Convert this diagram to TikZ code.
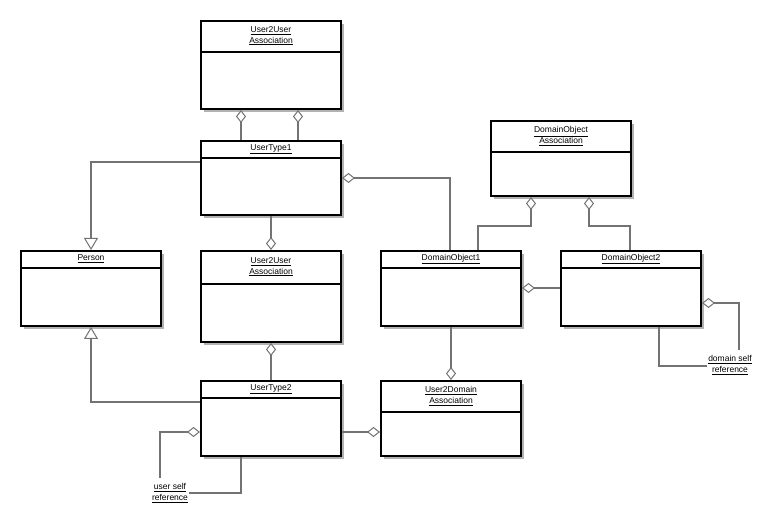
\documentclass[tikz,border=0pt]{standalone}
\usepackage{fontspec}
\setmainfont{Liberation Sans}
\usetikzlibrary{calc,arrows.meta}

\begin{document}
\begin{tikzpicture}[x=1pt, y=-1pt]

    \tikzstyle{cls}=[draw=black, line width=2pt, fill=white, anchor=north west, inner sep=0pt,
        font=\fontsize{8.5}{10.5}\selectfont, align=center,
        drop shadow={shadow xshift=4pt, shadow yshift=-4pt, fill=black!30, opacity=1}];
    \tikzstyle{link}=[draw=black!55, line width=1.5pt];
    \tikzstyle{agg}=[{Diamond[fill=white, length=13pt, width=10pt, line width=1pt]}-];
    \tikzstyle{gen}=[-{Triangle[fill=white, length=12pt, width=14pt, line width=1pt]}];
    \tikzstyle{note}=[font=\fontsize{8.5}{10.5}\selectfont, align=center, inner sep=1pt];

    \useasboundingbox (0,0) rectangle (780,529);

    % class box: name, x, y, width, height, header height, title
    \newcommand{\umlclass}[7]{
        \fill[black!30] (#2+4,#3+4) rectangle (#2+#4+4,#3+#5+4);
        \node[draw=black, line width=2pt, fill=white, anchor=north west, inner sep=0pt,
            minimum width=#4pt, minimum height=#5pt] (#1) at (#2,#3) {};
        \draw[line width=1.5pt] ($(#1.north west)+(0,#6)$) -- ($(#1.north east)+(0,#6)$);
        \node[note, anchor=center] (#1t) at ($(#1.north)+(0,#6/2)$) {#7};
    }

    \umlclass{uua}{200}{20}{140}{88}{32}{\underline{User2User}\\\underline{Association}}
    \umlclass{ut1}{200}{140}{140}{74}{18}{\underline{UserType1}}
    \umlclass{person}{20}{250}{140}{75}{18}{\underline{Person}}
    \umlclass{uub}{200}{250}{140}{91}{34}{\underline{User2User}\\\underline{Association}}
    \umlclass{doa}{490}{120}{140}{75}{32}{\underline{DomainObject}\\\underline{Association}}
    \umlclass{do1}{380}{250}{140}{75}{18}{\underline{DomainObject1}}
    \umlclass{do2}{560}{250}{140}{75}{18}{\underline{DomainObject2}}
    \umlclass{ut2}{200}{380}{140}{75}{18}{\underline{UserType2}}
    \umlclass{uda}{380}{380}{140}{75}{32}{\underline{User2Domain}\\\underline{Association}}

    \node[note] (usr) at (170,493) {\underline{user self}\\\underline{reference}};
    \node[note] (dsr) at (730,365) {\underline{domain self}\\\underline{reference}};

    \coordinate (usrtop) at (160,478);
    \coordinate (dsrtop) at (739,350);

    % aggregations
    \draw[link, agg] ($(uua.south west)+(41,0)$) -- ($(ut1.north west)+(41,0)$);
    \draw[link, agg] ($(uua.south west)+(98,0)$) -- ($(ut1.north west)+(98,0)$);
    \draw[link, agg] ($(ut1.north east)+(0,38)$) -| ($(do1.north west)+(70,0)$);
    \draw[link, agg] (uub.north) -- (ut1.south);
    \draw[link, agg] (uub.south) -- (ut2.north);
    \draw[link, agg] (uda.north) -- (do1.south);
    \draw[link, agg] ($(uda.north west)+(0,52)$) -- ($(ut2.north east)+(0,52)$);
    \draw[link, agg] ($(do1.north east)+(0,38)$) -- ($(do2.north west)+(0,38)$);
    \draw[link, agg] ($(doa.south west)+(41,0)$) -- ++(0,29) -| ($(do1.north west)+(98,0)$);
    \draw[link, agg] ($(doa.south west)+(99,0)$) -- ++(0,29) -| ($(do2.north west)+(70,0)$);

    % generalizations
    \draw[link, gen] ($(ut1.north west)+(0,22)$) -| (person.north);
    \draw[link, gen] ($(ut2.north west)+(0,22)$) -| (person.south);

    % self references
    \draw[link, agg] ($(ut2.north west)+(0,52)$) -| (usrtop);
    \draw[link] ($(ut2.south west)+(41,0)$) |- (usr.east);
    \draw[link, agg] ($(do2.north east)+(0,53)$) -| (dsrtop);
    \draw[link] ($(do2.south west)+(99,0)$) |- ($(dsr.west)+(0,1)$);

\end{tikzpicture}
\end{document}
